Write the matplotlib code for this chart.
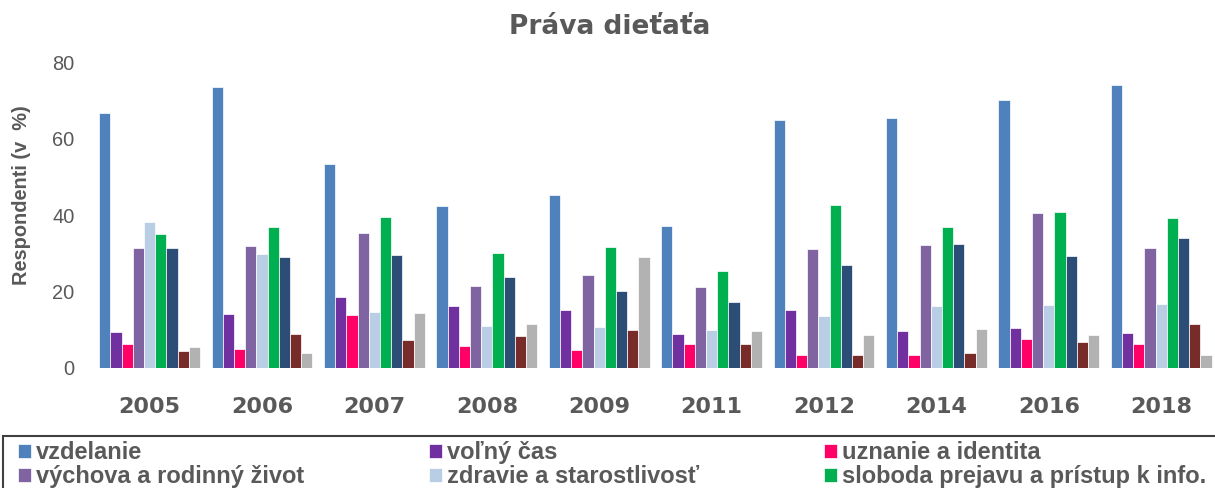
# Práva dieťaťa - grouped bars per survey year

import matplotlib
matplotlib.use('Agg')
import matplotlib.pyplot as plt
from matplotlib.patches import Rectangle
import numpy as np

# --- Data (respondents in %) ---
years = ['2005', '2006', '2007', '2008', '2009', '2011', '2012', '2014', '2016', '2018']

vzdelanie = [66.8, 73.7, 53.5, 42.3, 45.3, 37.1, 64.8, 65.5, 70.2, 74.1]
volny_cas = [9.3, 14.0, 18.4, 16.1, 15.0, 8.7, 15.1, 9.6, 10.3, 9.1]
uznanie = [6.2, 4.9, 13.8, 5.6, 4.5, 6.1, 3.4, 3.2, 7.5, 6.2]
vychova = [31.4, 31.8, 35.3, 21.4, 24.2, 21.0, 31.0, 32.2, 40.6, 31.4]
zdravie = [38.1, 29.9, 14.5, 10.9, 10.6, 9.8, 13.5, 16.1, 16.3, 16.7]
sloboda = [35.1, 36.8, 39.5, 30.0, 31.6, 25.2, 42.6, 36.9, 40.9, 39.2]
# last three series - their legend row is cut off in the source
seria_7 = [31.4, 28.9, 29.5, 23.7, 20.1, 17.1, 26.9, 32.4, 29.3, 34.0]
seria_8 = [4.4, 8.9, 7.3, 8.3, 9.9, 6.1, 3.2, 3.8, 6.6, 11.3]
seria_9 = [5.4, 3.9, 14.3, 11.4, 29.1, 9.6, 8.4, 10.2, 8.5, 3.4]

labels = ['vzdelanie', 'voľný čas', 'uznanie a identita',
          'výchova a rodinný život', 'zdravie a starostlivosť',
          'sloboda prejavu a prístup k info.', None, None, None]
series = [vzdelanie, volny_cas, uznanie, vychova, zdravie, sloboda,
          seria_7, seria_8, seria_9]
colors = ['#4F81BD', '#7030A0', '#FF0066', '#8064A2', '#B9CDE5',
          '#00B050', '#2C4D75', '#772C2A', '#B2B2B2']

text_color = '#595959'
bar_width = 0.0996

# --- Figure ---
fig = plt.figure(figsize=(12.15, 4.88), dpi=100)
ax = fig.add_axes([0.0769, 0.2469, 0.9251, 0.625])

x = np.arange(len(years))
handles = []
for k, (vals, col, lab) in enumerate(zip(series, colors, labels)):
    b = ax.bar(x + (k - 4) * bar_width, vals, bar_width, color=col,
               edgecolor='white', linewidth=0.5, zorder=2)
    if lab is not None:
        handles.append((b, lab))

ax.set_xlim(-0.5, 9.5)
ax.set_ylim(0, 80)
ax.set_yticks([0, 20, 40, 60, 80])
ax.set_xticks(x)
ax.set_xticklabels(years, fontfamily='DejaVu Sans', fontweight='bold',
                   fontsize=16, color=text_color)
for lbl in ax.get_yticklabels():
    lbl.set_fontfamily('Liberation Sans')
    lbl.set_fontsize(14.4)
    lbl.set_color(text_color)
ax.tick_params(axis='x', length=0, pad=21)
ax.tick_params(axis='y', length=0, pad=13.5)
for sp in ax.spines.values():
    sp.set_visible(False)

# --- Texts ---
fig.text(610 / 1215, 1 - 27 / 488, 'Práva dieťaťa', ha='center', va='center',
         fontfamily='DejaVu Sans', fontweight='bold', fontsize=19, color=text_color)
fig.text(22 / 1215, 1 - 195 / 488, 'Respondenti (v  %)', rotation=90,
         ha='center', va='center', fontfamily='Liberation Sans',
         fontweight='bold', fontsize=14.4, color=text_color)

# --- Legend (matplotlib fills columns first, so reorder) ---
order = [0, 3, 1, 4, 2, 5]
leg = fig.legend([handles[i][0] for i in order], [handles[i][1] for i in order],
                 ncols=3, loc='upper left', bbox_to_anchor=(18 / 1215, 1 - 441 / 488),
                 borderaxespad=0, frameon=False, borderpad=0,
                 prop={'family': 'Liberation Sans', 'weight': 'bold', 'size': 17},
                 labelcolor=text_color, handlelength=0.55, handleheight=0.55,
                 handletextpad=0.2, columnspacing=5.3, labelspacing=0.05)

# legend frame, runs off the bottom / right of the picture like in the source
fig.add_artist(Rectangle((3 / 1215, -0.2), 1.2, 0.2 + (488 - 436) / 488,
                         transform=fig.transFigure, fill=False,
                         edgecolor='#404040', linewidth=1.5))

plt.savefig('out.png', dpi=100)
